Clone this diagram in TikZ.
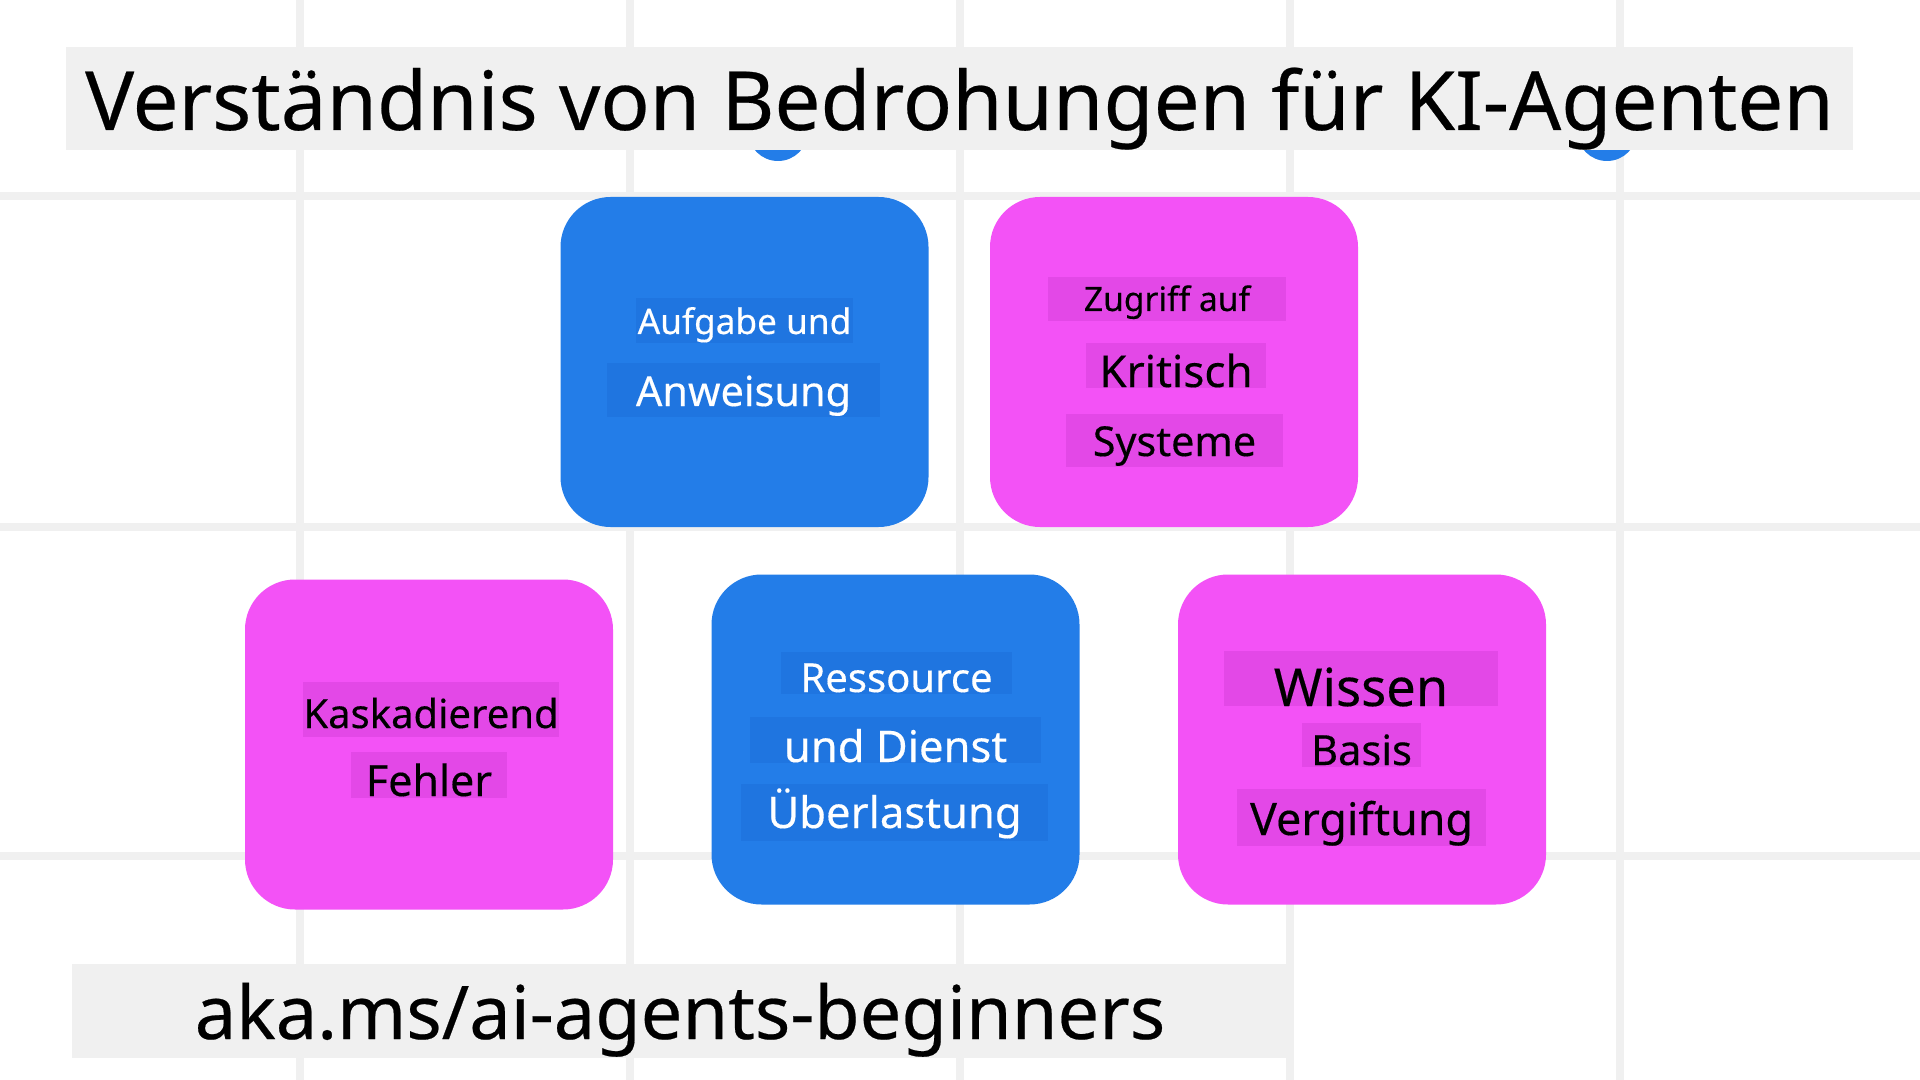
\documentclass[tikz,border=0pt]{standalone}
\usepackage{fontspec}
\setmainfont{Noto Sans}[FakeBold=0.3]
\usepackage{tikz}
\usetikzlibrary{positioning}

\definecolor{agentblue}{HTML}{237DE8}
\definecolor{agentbluehl}{HTML}{1F75E0}
\definecolor{agentpink}{HTML}{F352F6}
\definecolor{agentpinkhl}{HTML}{E348E7}
\definecolor{paper}{HTML}{F0F0F0}

\begin{document}
\begin{tikzpicture}[x=0.5pt, y=-0.5pt,
    threat/.style = {rounded corners=25pt, minimum width=184pt, minimum height=165pt, inner sep=0pt},
    blue box/.style = {threat, fill=agentblue},
    pink box/.style = {threat, fill=agentpink},
    label line/.style = {anchor=base, inner sep=0pt},
    blue line/.style = {label line, fill=agentbluehl, text=white},
    pink line/.style = {label line, fill=agentpinkhl, text=black},
    banner/.style = {anchor=base, inner sep=0pt, fill=paper, text=black}]
    \useasboundingbox (0,0) rectangle (1920,1080);
    \fill[white] (0,0) rectangle (1920,1080);
    % grid
    \foreach \gx in {300,630,960,1290,1620}
        \draw[paper, line width=4pt] (\gx,0) -- (\gx,1080);
    \foreach \gy in {196,527,856}
        \draw[paper, line width=4pt] (0,\gy) -- (1920,\gy);
    % dots peeking out below the title
    \fill[agentblue] (778,131) circle (15pt);
    \fill[agentblue] (1607,131) circle (15pt);
    % title
    \node[banner, minimum width=893.5pt, text height=41.5pt, text depth=10pt,
        font=\fontsize{40.8}{48}\selectfont] (title) at (959.5,130) {Verständnis von Bedrohungen für KI-Agenten};
    % threats
    \node[blue box] (task) at (744.5,362) {};
    \node[pink box] (access) at (1174,362) {};
    \node[pink box] (cascade) at (429,744.5) {};
    \node[blue box] (resource) at (895.5,739.5) {};
    \node[pink box] (knowledge) at (1362,739.5) {};
    % lines of text
    \node[blue line, minimum width=108.5pt, text height=18pt, text depth=4.5pt,
        font=\fontsize{17.6}{20}\selectfont] (task1) at (744.5,334) {Aufgabe und};
    \node[blue line, minimum width=136.5pt, text height=21.5pt, text depth=5.5pt,
        font=\fontsize{20.7}{24}\selectfont] (task2) at (743.5,406) {Anweisung};
    \node[pink line, minimum width=119pt, text height=17pt, text depth=5pt,
        font=\fontsize{16.8}{18}\selectfont] (access1) at (1167,311) {Zugriff auf};
    \node[pink line, minimum width=90pt, text height=22pt, text depth=0.5pt,
        font=\fontsize{22}{24}\selectfont] (access2) at (1176,387) {Kritisch};
    \node[pink line, minimum width=108.5pt, text height=21pt, text depth=5.5pt,
        font=\fontsize{20.6}{24}\selectfont] (access3) at (1174.5,456) {Systeme};
    \node[pink line, minimum width=128pt, text height=23pt, text depth=4.5pt,
        font=\fontsize{20}{22}\selectfont] (cascade1) at (431,728) {Kaskadierend};
    \node[pink line, minimum width=78pt, text height=22pt, text depth=1pt,
        font=\fontsize{21.5}{24}\selectfont] (cascade2) at (429,796) {Fehler};
    \node[blue line, minimum width=115.5pt, text height=20pt, text depth=1pt,
        font=\fontsize{20}{22}\selectfont] (resource1) at (896.5,692) {Ressource};
    \node[blue line, minimum width=145.5pt, text height=22.5pt, text depth=0.5pt,
        font=\fontsize{21.8}{24}\selectfont] (resource2) at (895.5,762) {und Dienst};
    \node[blue line, minimum width=153.5pt, text height=22pt, text depth=6.5pt,
        font=\fontsize{21.8}{24}\selectfont] (resource3) at (894.5,828) {Überlastung};
    \node[pink line, minimum width=137pt, text height=27.5pt, text depth=0pt,
        font=\fontsize{26.2}{31}\selectfont] (knowledge1) at (1361,706) {Wissen};
    \node[pink line, minimum width=59.5pt, text height=21pt, text depth=1pt,
        font=\fontsize{20.8}{22}\selectfont] (knowledge2) at (1361.5,765) {Basis};
    \node[pink line, minimum width=124.5pt, text height=23pt, text depth=5.5pt,
        font=\fontsize{22.4}{25}\selectfont] (knowledge3) at (1361.5,835) {Vergiftung};
    % link
    \node[banner, minimum width=608pt, text height=37.5pt, text depth=9.5pt,
        font=\fontsize{37}{43}\selectfont] (link) at (680,1039) {aka.ms/ai-agents-beginners};
\end{tikzpicture}
\end{document}
